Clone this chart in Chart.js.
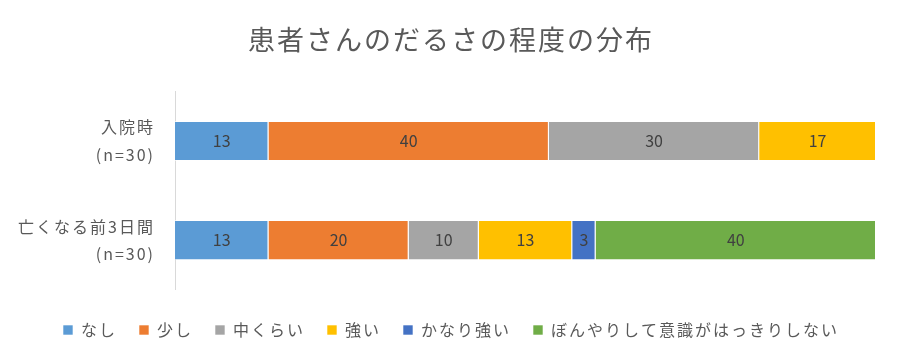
<!DOCTYPE html>
<html lang="ja">
<head>
    <meta charset="UTF-8">
    <title>患者さんのだるさの程度の分布</title>
    <script src="https://cdn.jsdelivr.net/npm/chart.js"></script>
    <style>
        body {
            margin: 0;
            background: #ffffff;
        }
        #wrap {
            width: 900px;
            height: 360px;
        }
    </style>
</head>
<body>
    <div id="wrap"><canvas id="chart"></canvas></div>

    <script>
        // counts out of n=30 per group; labels show rounded percent
        const groupSize = 30;
        const categories = [["入院時", "(n=30)"], ["亡くなる前3日間", "(n=30)"]];
        const seriesNames = ["なし", "少し", "中くらい", "強い", "かなり強い", "ぼんやりして意識がはっきりしない"];
        const nashi = [4, 4];
        const sukoshi = [12, 6];
        const chukurai = [9, 3];
        const tsuyoi = [5, 4];
        const kanariTsuyoi = [0, 1];
        const bonyari = [0, 12];
        const colors = ["#5B9BD5", "#ED7D31", "#A5A5A5", "#FFC000", "#4472C4", "#70AD47"];

        const fontFamily = "'Noto Sans CJK JP', 'Noto Sans', sans-serif";
        const allSeries = [nashi, sukoshi, chukurai, tsuyoi, kanariTsuyoi, bonyari];

        // wider glyph spacing like the original
        const spacingPlugin = {
            id: "spacing",
            beforeLayout(chart) { chart.ctx.letterSpacing = "2px"; },
            beforeDraw(chart) { chart.ctx.letterSpacing = "2px"; },
            // title and legend sit a bit right of the canvas centre in the original
            afterLayout(chart) {
                [chart.titleBlock, chart.legend].forEach(box => {
                    if (!box) return;
                    box.left += 11;
                    box.right += 11;
                });
            }
        };

        const valueLabels = {
            id: "valueLabels",
            afterDatasetsDraw(chart) {
                const ctx = chart.ctx;
                ctx.save();
                ctx.letterSpacing = "0px";
                ctx.font = "16px " + fontFamily;
                ctx.fillStyle = "#404040";
                ctx.textAlign = "center";
                ctx.textBaseline = "middle";
                chart.data.datasets.forEach((ds, i) => {
                    chart.getDatasetMeta(i).data.forEach((bar, j) => {
                        const v = ds.data[j];
                        if (!v) return;
                        const pct = Math.round(v / groupSize * 100);
                        ctx.fillText(String(pct), (bar.x + bar.base) / 2, bar.y);
                    });
                });
                ctx.restore();
            }
        };

        new Chart(document.getElementById("chart"), {
            type: "bar",
            data: {
                labels: categories,
                datasets: seriesNames.map((name, i) => ({
                    label: name,
                    data: allSeries[i],
                    backgroundColor: colors[i],
                    borderColor: "rgba(255,255,255,0.6)",
                    borderWidth: 1,
                    barPercentage: 0.81,
                    categoryPercentage: 0.5
                }))
            },
            options: {
                indexAxis: "y",
                responsive: true,
                maintainAspectRatio: false,
                animation: false,
                layout: { padding: { top: 10, left: 4, right: 24, bottom: 12 } },
                scales: {
                    x: {
                        stacked: true,
                        min: 0,
                        max: groupSize,
                        display: false
                    },
                    y: {
                        stacked: true,
                        afterFit(scale) { scale.width = 171; },
                        grid: { display: false },
                        border: { display: true, color: "#d9d9d9" },
                        ticks: {
                            color: "#595959",
                            padding: 12,
                            font: { family: fontFamily, size: 16, lineHeight: 1.7 }
                        }
                    }
                },
                plugins: {
                    title: {
                        display: true,
                        text: "患者さんのだるさの程度の分布",
                        color: "#595959",
                        font: { family: fontFamily, size: 27, weight: "normal" },
                        padding: { top: 14, bottom: 35 }
                    },
                    legend: {
                        position: "bottom",
                        title: {
                            display: true,
                            text: "",
                            font: { size: 1 },
                            padding: { top: 0, bottom: 9 }
                        },
                        labels: {
                            color: "#595959",
                            boxWidth: 10,
                            boxHeight: 10,
                            padding: 22,
                            font: { family: fontFamily, size: 16 }
                        }
                    },
                    tooltip: { enabled: false }
                }
            },
            plugins: [spacingPlugin, valueLabels]
        });
    </script>
</body>
</html>
